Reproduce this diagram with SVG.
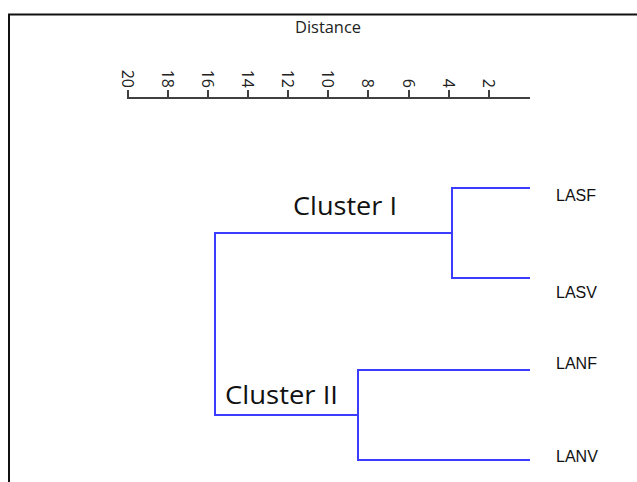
<svg xmlns="http://www.w3.org/2000/svg" width="637" height="482" viewBox="0 0 637 482">
<style>
.frame{fill:none;stroke:#111;stroke-width:2}
.axis{fill:none;stroke:#404040;stroke-width:2}
.tick{font-family:"Open Sans","DejaVu Sans",sans-serif;font-size:16px;fill:#222;text-anchor:end}
.title{font-family:"Open Sans","DejaVu Sans",sans-serif;font-size:16px;fill:#222;text-anchor:middle}
.br{fill:none;stroke:#3c3cff;stroke-width:2}
.leaf{font-family:"Liberation Sans",Arial,sans-serif;font-size:16px;fill:#111}
.cl{font-family:"Open Sans","DejaVu Sans",sans-serif;font-size:26px;fill:#111}
</style>
<rect width="637" height="482" fill="#fff"/>
<path class="frame" d="M9,482 V14.5 H637"/>
<g id="axis">
<text class="title" x="328" y="33" textLength="66" lengthAdjust="spacingAndGlyphs">Distance</text>
<path class="axis" d="M127,98 H530 M128,90 V98 M168,90 V98 M208,90 V98 M248,90 V98 M288,90 V98 M328,90 V98 M368,90 V98 M409,90 V98 M449,90 V98 M489,90 V98"/>
<text class="tick" transform="translate(122,88) rotate(90)">20</text>
<text class="tick" transform="translate(162,88) rotate(90)">18</text>
<text class="tick" transform="translate(202,88) rotate(90)">16</text>
<text class="tick" transform="translate(242,88) rotate(90)">14</text>
<text class="tick" transform="translate(282,88) rotate(90)">12</text>
<text class="tick" transform="translate(322,88) rotate(90)">10</text>
<text class="tick" transform="translate(362,88) rotate(90)">8</text>
<text class="tick" transform="translate(403,88) rotate(90)">6</text>
<text class="tick" transform="translate(443,88) rotate(90)">4</text>
<text class="tick" transform="translate(483,88) rotate(90)">2</text>
</g>
<g id="connectors">
<path class="br" d="M452,233 H215 V415 H358"/>
<path class="br" d="M530,188 H452 V278 H530"/>
<path class="br" d="M530,370 H358 V460 H530"/>
</g>
<g id="cluster1"><text class="cl" x="293" y="215" textLength="104" lengthAdjust="spacingAndGlyphs">Cluster I</text></g>
<g id="cluster2"><text class="cl" x="225" y="404" textLength="113" lengthAdjust="spacingAndGlyphs">Cluster II</text></g>
<g id="LASF"><text class="leaf" x="556" y="201">LASF</text></g>
<g id="LASV"><text class="leaf" x="556" y="298">LASV</text></g>
<g id="LANF"><text class="leaf" x="556" y="369">LANF</text></g>
<g id="LANV"><text class="leaf" x="556" y="462">LANV</text></g>
</svg>
